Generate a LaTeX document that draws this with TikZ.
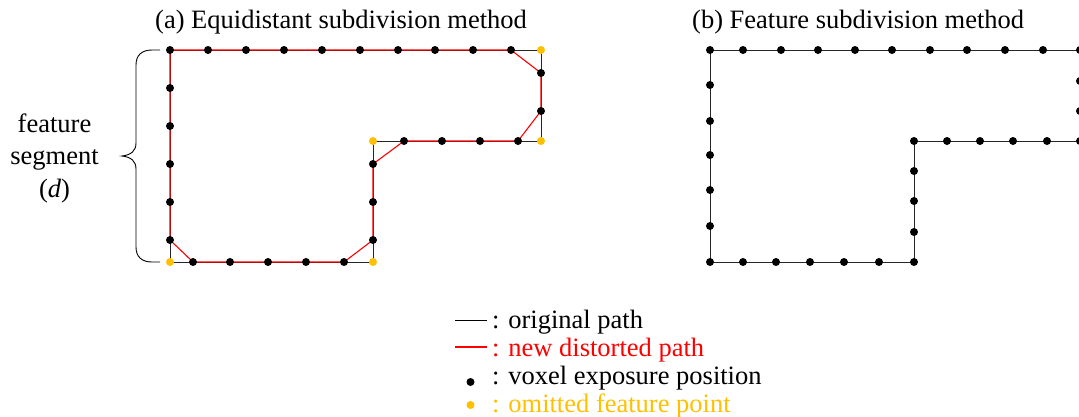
\documentclass[tikz,border=0pt]{standalone}
\usepackage{fontspec}
\setmainfont{Liberation Serif}
\usetikzlibrary{positioning, backgrounds}
\definecolor{pathred}{HTML}{FF0000}
\definecolor{omityellow}{HTML}{FFC000}
\tikzset{
  voxel/.style={circle, fill=black, inner sep=0pt, minimum size=8pt},
  omitted/.style={circle, fill=omityellow, inner sep=0pt, minimum size=8pt},
  origpath/.style={black!85, line width=1pt},
  newpath/.style={pathred, line width=1.1pt},
  legendtext/.style={anchor=base west, inner sep=0pt},
}

\begin{document}
\begin{tikzpicture}[x=1pt, y=-1pt, font=\fontsize{26.5}{32.5}\selectfont]
\useasboundingbox (0,0) rectangle (1079,416);
\clip (0,0) rectangle (1079,416);

% titles
\node[anchor=base west, inner sep=0pt] (ta) at (155,28) {(a) Equidistant subdivision method};
\node[anchor=base west, inner sep=0pt] (tb) at (692,28) {(b) Feature subdivision method};

% (a) equidistant subdivision
\foreach \x [count=\i] in {170,208,246,284,322,360,398,435,473,511}
  \node[voxel] (at\i) at (\x,50) {};
\foreach \y [count=\i] in {73,111}
  \node[voxel] (ar\i) at (541,\y) {};
\foreach \x [count=\i] in {518,480,442,404}
  \node[voxel] (ah\i) at (\x,141) {};
\foreach \y [count=\i] in {164,202,240}
  \node[voxel] (av\i) at (373,\y) {};
\foreach \x [count=\i] in {344,306,268,230,193}
  \node[voxel] (ab\i) at (\x,262) {};
\foreach \y [count=\i] in {240,202,164,126,88}
  \node[voxel] (al\i) at (170,\y) {};
\node[omitted] (ya1) at (541,50) {};
\node[omitted] (ya2) at (541,141) {};
\node[omitted] (ya3) at (373,141) {};
\node[omitted] (ya4) at (373,262) {};
\node[omitted] (ya5) at (170,262) {};

\begin{scope}[on background layer]
\draw[origpath] (at1.center) -- (ya1.center) -- (ya2.center) -- (ya3.center)
  -- (ya4.center) -- (ya5.center) -- cycle;
\draw[newpath] (at1.center) -- (at10.center) -- (ar1.center) -- (ar2.center)
  -- (ah1.center) -- (ah4.center) -- (av1.center) -- (av3.center)
  -- (ab1.center) -- (ab5.center) -- (al1.center) -- cycle;
\end{scope}

% feature segment brace
\draw[black, line width=0.9pt] (160,50) -- (152,50)
  .. controls (142,50) and (136,55) .. (136,65) -- (136,143)
  .. controls (136,151) and (131,155) .. (122,156)
  .. controls (131,157) and (136,161) .. (136,169) -- (136,247)
  .. controls (136,257) and (142,262) .. (152,262) -- (160,262);
\node[align=center, inner sep=0pt] (seg) at (54.5,158) {feature\\segment\\(\textit{d})};

% (b) feature subdivision
\foreach \x [count=\i] in {710,743,781,818,855,892,930,967,1005,1043,1080}
  \node[voxel] (bt\i) at (\x,50) {};
\foreach \y [count=\i] in {81,111,141}
  \node[voxel] (br\i) at (1080,\y) {};
\foreach \x [count=\i] in {1047,1013,980,947,914}
  \node[voxel] (bh\i) at (\x,141) {};
\foreach \y [count=\i] in {171,201,232,262}
  \node[voxel] (bv\i) at (914,\y) {};
\foreach \x [count=\i] in {879,844,810,776,743,710}
  \node[voxel] (bb\i) at (\x,262) {};
\foreach \y [count=\i] in {226,190,155,121,85}
  \node[voxel] (bl\i) at (710,\y) {};

\begin{scope}[on background layer]
\draw[origpath] (bt1.center) -- (bt11.center) -- (br3.center) -- (bh5.center)
  -- (bv4.center) -- (bb6.center) -- cycle;
\end{scope}

% legend
\coordinate (l1a) at (455,320);
\coordinate (l1b) at (487,320);
\coordinate (l2a) at (455,347);
\coordinate (l2b) at (487,347);
\draw[black, line width=1pt] (l1a) -- (l1b);
\draw[newpath] (l2a) -- (l2b);
\node[voxel] (ld1) at (470.5,382) {};
\node[omitted] (ld2) at (470.5,405) {};
\node[legendtext] (lt1) at (492,328) {: original path};
\node[legendtext, text=pathred] (lt2) at (492,356) {: new distorted path};
\node[legendtext] (lt3) at (492,384) {: voxel exposure position};
\node[legendtext, text=omityellow] (lt4) at (492,412) {: omitted feature point};
\end{tikzpicture}
\end{document}
